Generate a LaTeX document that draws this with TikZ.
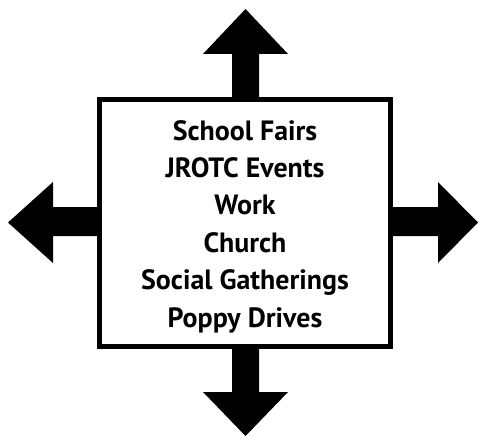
\documentclass[tikz,border=0pt]{standalone}
\usepackage{fontspec}
\setmainfont{PT Sans}
\begin{document}
\begin{tikzpicture}[x=1pt,y=-1pt,
  bigarrow/.style={fill=black},
  frame/.style={draw=black, line width=5pt, minimum width=291pt, minimum height=246.5pt, inner sep=0pt},
  item/.style={anchor=base, inner sep=0pt, font=\fontsize{27.9pt}{32pt}\selectfont\bfseries}]
\useasboundingbox (0,0) rectangle (479,436);
% arrows
\fill[bigarrow] (232,100) -- (232,54) -- (203,54) -- (245.5,9) -- (288,54) -- (259,54) -- (259,100) -- cycle;
\fill[bigarrow] (232,345) -- (232,392) -- (203,392) -- (245.5,436) -- (288,392) -- (259,392) -- (259,345) -- cycle;
\fill[bigarrow] (100,207) -- (53,207) -- (53,182) -- (8,222.5) -- (53,263) -- (53,236) -- (100,236) -- cycle;
\fill[bigarrow] (390,207) -- (438,207) -- (438,182) -- (478,222.5) -- (438,263) -- (438,236) -- (390,236) -- cycle;
% box
\node[frame, fill=white] (box) at (245,222.75) {};
\node[item] (l1) at (245,140) {School Fairs};
\node[item] (l2) at (245,177.4) {JROTC Events};
\node[item] (l3) at (245,214.8) {Work};
\node[item] (l4) at (245,252.2) {Church};
\node[item] (l5) at (245,289.6) {Social Gatherings};
\node[item] (l6) at (245,327) {Poppy Drives};
\end{tikzpicture}
\end{document}
